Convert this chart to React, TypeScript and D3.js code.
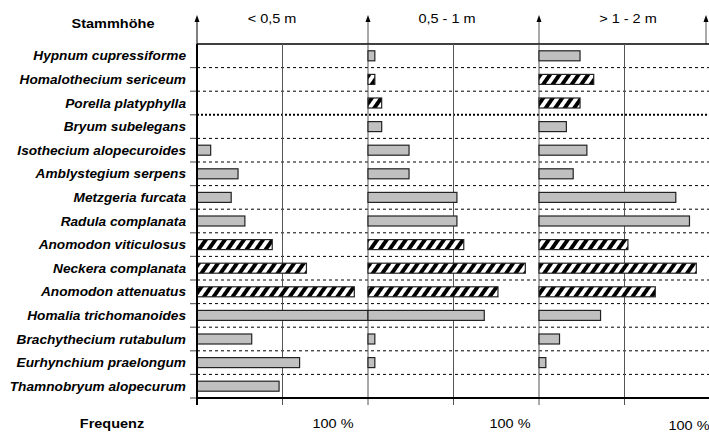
import React from "react";
import * as d3 from "d3";

const species = [
  "Hypnum cupressiforme",
  "Homalothecium sericeum",
  "Porella platyphylla",
  "Bryum subelegans",
  "Isothecium alopecuroides",
  "Amblystegium serpens",
  "Metzgeria furcata",
  "Radula complanata",
  "Anomodon viticulosus",
  "Neckera complanata",
  "Anomodon attenuatus",
  "Homalia trichomanoides",
  "Brachythecium rutabulum",
  "Eurhynchium praelongum",
  "Thamnobryum alopecurum",
];

const hatched = [
  "Homalothecium sericeum",
  "Porella platyphylla",
  "Anomodon viticulosus",
  "Neckera complanata",
  "Anomodon attenuatus",
];

const panels = ["< 0,5 m", "0,5 - 1 m", "> 1 - 2 m"];

const low = [0, 0, 0, 0, 2, 6, 5, 7, 11, 16, 23, 25, 8, 15, 12];
const mid = [1, 1, 2, 2, 6, 6, 13, 13, 14, 23, 19, 17, 1, 1, 0];
const high = [6, 8, 6, 4, 7, 5, 20, 22, 13, 23, 17, 9, 3, 1, 0];
const seriesValues = [low, mid, high];

const maxValue = 25;
const tickValues = [0, 12.5];

const W = 709;
const H = 432;
const x0 = 197;
const panelW = 171;
const top = 44;
const bottom = 398;

function T(props: {
  x: number;
  y: number;
  size: number;
  anchor?: string;
  bold?: boolean;
  italic?: boolean;
  sx?: number;
  children: React.ReactNode;
}) {
  const { x, y, size, anchor = "start", bold, italic, sx = 1.16, children } = props;
  return (
    <text
      transform={`translate(${x},${y}) scale(${sx},1)`}
      fontSize={size}
      fontWeight={bold ? "bold" : "normal"}
      fontStyle={italic ? "italic" : "normal"}
      textAnchor={anchor}
    >
      {children}
    </text>
  );
}

export default function App() {
  const panelScale = d3
    .scaleBand<string>()
    .domain(panels)
    .range([x0, x0 + panelW * panels.length])
    .padding(0);
  const y = d3.scaleBand<string>().domain(species).range([top, bottom]).padding(0);
  const xFor = (p: string) =>
    d3
      .scaleLinear()
      .domain([0, maxValue])
      .range([panelScale(p)!, panelScale(p)! + panelScale.bandwidth()]);

  const boundaries = species.map((s) => y(s)! + y.bandwidth());
  const barH = 10;
  const font = "'Liberation Sans', Arial, sans-serif";

  const arrowXs = [...panels.map((p) => panelScale(p)!), Math.min(W - 3, x0 + panelW * 3)];

  return (
    <svg
      width={W}
      height={H}
      style={{ position: "absolute", left: 0, top: 0, background: "#fff" }}
      fontFamily={font}
    >
      <defs>
        <pattern
          id="hatch"
          patternUnits="userSpaceOnUse"
          width={7.8}
          height={7.8}
          patternTransform="rotate(35)"
        >
          <rect width={7.8} height={7.8} fill="#fff" />
          <rect width={3.9} height={7.8} fill="#000" />
        </pattern>
      </defs>

      {/* header */}
      <T x={113} y={28} size={12.5} bold anchor="middle">
        Stammhöhe
      </T>
      {panels.map((p, i) => (
        <T key={p} x={[272, 447, 628][i]} y={23} size={12.5} anchor="middle">
          {p}
        </T>
      ))}

      {/* arrows */}
      {arrowXs.map((ax, i) => (
        <g key={i}>
          <line
            x1={ax}
            x2={ax}
            y1={top}
            y2={20}
            stroke={i === 0 ? "#000" : "#555"}
            strokeWidth={1}
          />
          <path d={`M${ax},15 L${ax - 2.5},22 L${ax + 2.5},22 Z`} fill="#000" />
        </g>
      ))}

      {/* top line */}
      <line x1={x0} x2={W} y1={top} y2={top} stroke="#000" strokeWidth={1.5} />

      {/* row separators */}
      {boundaries.slice(0, -1).map((by, i) => (
        <g key={i}>
          <line x1={190} x2={x0} y1={by} y2={by} stroke="#666" strokeWidth={1.2} />
          <line
            x1={x0}
            x2={W}
            y1={by}
            y2={by}
            stroke="#000"
            strokeWidth={i === 2 ? 2 : 1}
            strokeDasharray={i === 2 ? "2,2" : "3,3"}
          />
        </g>
      ))}
      <line x1={190} x2={x0} y1={bottom} y2={bottom} stroke="#666" strokeWidth={1.2} />

      {/* vertical grid lines */}
      {panels.map((p) => {
        const sx = xFor(p);
        return tickValues.map((t) => (
          <line
            key={p + t}
            x1={sx(t)}
            x2={sx(t)}
            y1={top}
            y2={bottom + 7}
            stroke={t === 0 && p === panels[0] ? "#000" : "#555"}
            strokeWidth={t === 0 && p === panels[0] ? 2 : 1}
          />
        ));
      })}

      {/* bars */}
      {panels.map((p, pi) => {
        const sx = xFor(p);
        return species.map((s, si) => {
          const v = seriesValues[pi][si];
          if (!v) return null;
          const isH = hatched.includes(s);
          return (
            <rect
              key={p + s}
              x={sx(0)}
              y={y(s)! + y.bandwidth() / 2 - barH / 2}
              width={sx(v) - sx(0)}
              height={barH}
              fill={isH ? "url(#hatch)" : "#c0c0c0"}
              stroke="#222"
              strokeWidth={1.2}
            />
          );
        });
      })}

      {/* redraw first axis */}
      <line x1={x0} x2={x0} y1={top} y2={bottom + 7} stroke="#000" strokeWidth={2} />

      {/* bottom axis */}
      <line x1={x0} x2={W} y1={bottom} y2={bottom} stroke="#000" strokeWidth={2} />

      {/* species labels */}
      {species.map((s) => (
        <T
          key={s}
          x={186}
          y={y(s)! + y.bandwidth() / 2 + 4.5}
          size={12}
          bold
          italic
          sx={1.14}
          anchor="end"
        >
          {s}
        </T>
      ))}

      {/* bottom labels */}
      <T x={112} y={428} size={12.5} bold anchor="middle">
        Frequenz
      </T>
      {panels.map((p, i) => (
        <T key={p} x={[333, 510, 689][i]} y={[428, 428, 430][i]} size={12.5} anchor="middle">
          100 %
        </T>
      ))}
    </svg>
  );
}
